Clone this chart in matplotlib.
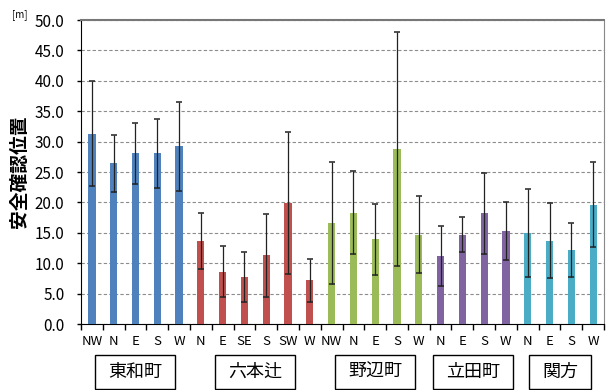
import matplotlib
matplotlib.use("Agg")
import matplotlib.pyplot as plt
import matplotlib.transforms as mtransforms
from matplotlib.patches import Rectangle
import numpy as np

plt.rcParams['font.family'] = ['Noto Sans CJK JP', 'DejaVu Sans']

# districts and the directions measured in each
groups = ['東和町', '六本辻', '野辺町', '立田町', '関方']
directions = [
    ['NW', 'N', 'E', 'S', 'W'],
    ['N', 'E', 'SE', 'S', 'SW', 'W'],
    ['NW', 'N', 'E', 'S', 'W'],
    ['N', 'E', 'S', 'W'],
    ['N', 'E', 'S', 'W'],
]
# mean safe-confirmation distance [m] and its spread
means = [
    [31.3, 26.4, 28.1, 28.1, 29.2],
    [13.6, 8.6, 7.8, 11.3, 19.9, 7.2],
    [16.6, 18.3, 13.9, 28.8, 14.7],
    [11.2, 14.7, 18.2, 15.3],
    [15.0, 13.7, 12.2, 19.6],
]
errors = [
    [8.6, 4.7, 5.0, 5.7, 7.3],
    [4.6, 4.2, 4.1, 6.8, 11.7, 3.5],
    [10.1, 6.8, 5.8, 19.2, 6.3],
    [5.0, 2.9, 6.7, 4.7],
    [7.2, 6.2, 4.4, 7.0],
]
colors = ['#4F81BD', '#C0504D', '#9BBB59', '#8064A2', '#4BACC6']

fig = plt.figure(figsize=(6.06, 3.9), dpi=100)
ax = fig.add_axes([0.1337, 0.1692, 0.8630, 0.7795])

pos = 0
labels = []
centers = []
for g in range(len(groups)):
    n = len(directions[g])
    x = np.arange(pos, pos + n)
    ax.bar(x, means[g], width=0.33, color=colors[g], zorder=3)
    ax.errorbar(x, means[g], yerr=errors[g], fmt='none', ecolor='#222222',
                elinewidth=0.9, capsize=2.5, capthick=1.1, zorder=4)
    labels += directions[g]
    centers.append(pos + (n - 1) / 2)
    pos += n

ax.set_xlim(-0.5, pos - 0.5)
ax.set_ylim(0, 50)
ax.set_yticks(np.arange(0, 50.1, 5))
ax.set_yticklabels(['%.1f' % v for v in np.arange(0, 50.1, 5)], fontsize=11)
ax.set_xticks(np.arange(pos))
ax.set_xticklabels(labels, fontsize=9.5)
ax.set_xticks(np.arange(pos + 1) - 0.5, minor=True)
ax.tick_params(axis='x', which='major', length=0, pad=8)
ax.tick_params(axis='x', which='minor', length=4, direction='out', width=1)
ax.tick_params(axis='y', length=3, width=1, pad=9)

ax.yaxis.grid(True, linestyle=(0, (3, 2)), color='#8c8c8c', linewidth=0.8, zorder=0)
ax.set_axisbelow(True)
ax.spines['left'].set_color('black')
ax.spines['bottom'].set_color('black')
ax.spines['top'].set_color('#777777')
ax.spines['top'].set_linewidth(1.5)
ax.spines['top'].set_linestyle((0, (2, 1)))
ax.spines['right'].set_color('#888888')

ax.set_ylabel('安全確認位置', fontsize=13.5, fontweight='bold', labelpad=4)
fig.text(0.02, 0.955, '[m]', fontsize=7)

# boxed district names under each direction group
trans = mtransforms.blended_transform_factory(ax.transData, fig.transFigure)
texts = []
for c, name in zip(centers, groups):
    texts.append(ax.text(c, 0.046, name, transform=trans, ha='center',
                         va='center', fontsize=13, clip_on=False, zorder=5))

# frame each name with a box wider than tall (sizes in pixels)
fig.canvas.draw()
renderer = fig.canvas.get_renderer()
W, H = fig.bbox.width, fig.bbox.height
box_h = 34
box_y0 = 1
for t in texts:
    bb = t.get_window_extent(renderer)
    cx = (bb.x0 + bb.x1) / 2
    box_w = bb.width + 26
    fig.add_artist(Rectangle(((cx - box_w / 2) / W, box_y0 / H), box_w / W, box_h / H,
                             transform=fig.transFigure, facecolor='none',
                             edgecolor='black', linewidth=1))

fig.savefig('out.png', dpi=100)
